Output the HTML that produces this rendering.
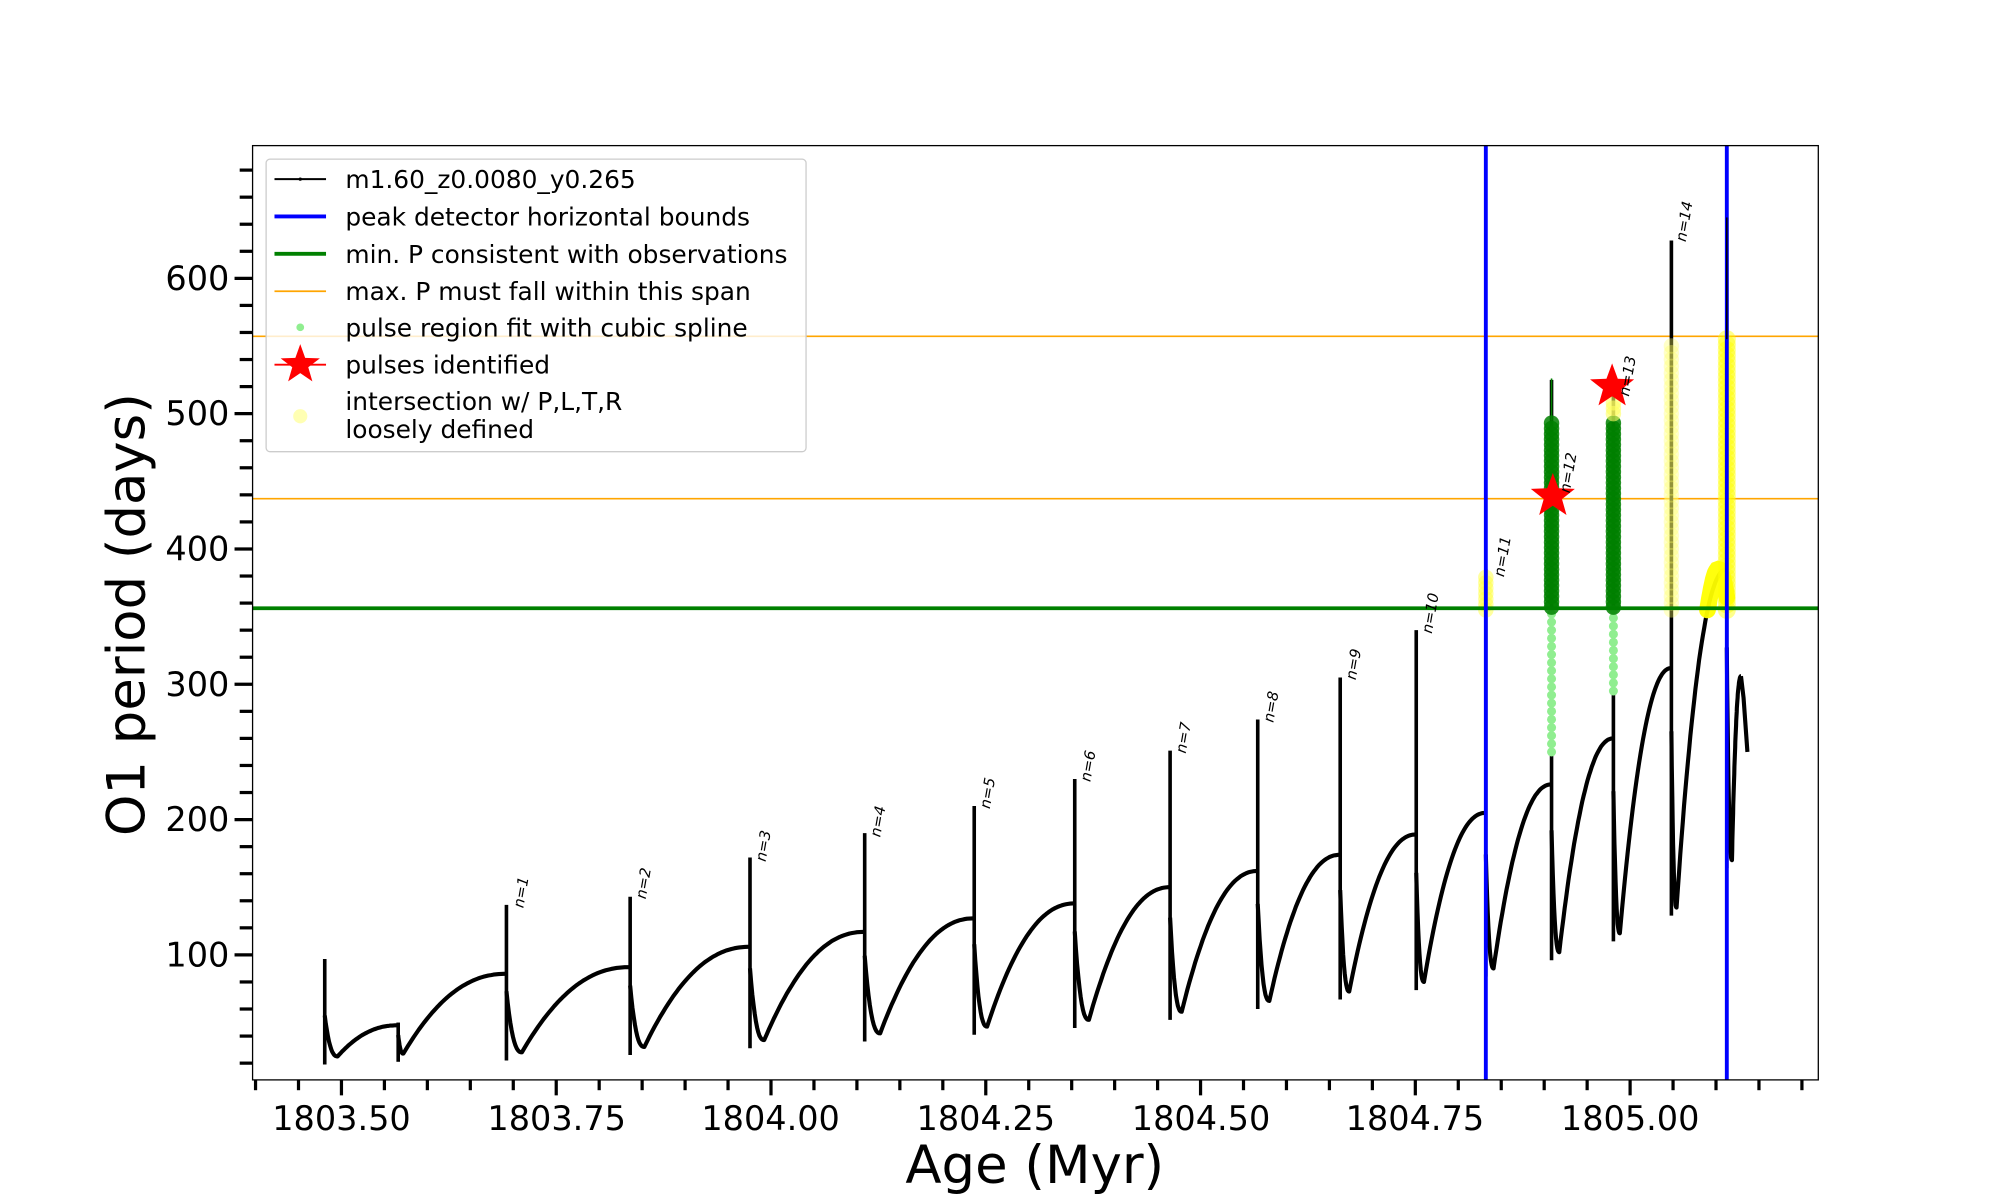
<!DOCTYPE html>
<html><head><meta charset="utf-8"><style>
html,body{margin:0;padding:0;background:#fff}
svg{display:block}
text{font-family:"DejaVu Sans","Liberation Sans",sans-serif}
</style></head><body>
<svg id="s" width="2000" height="1200" viewBox="0 0 1552 931.2" xmlns="http://www.w3.org/2000/svg">
<rect x="0" y="0" width="1552" height="931.2" fill="#fff"/>
<g id="plot"></g>
<rect x="196" y="113" width="1215" height="725" fill="none" stroke="#000" stroke-width="1"/>
<g id="ticks"></g>
<g font-size="26" fill="#000" text-anchor="end">
<text x="178" y="750">100</text><text x="178" y="645">200</text><text x="178" y="540">300</text>
<text x="178" y="435">400</text><text x="178" y="330">500</text><text x="178" y="225">600</text>
</g>
<g font-size="26" fill="#000" text-anchor="middle">
<text x="265" y="877">1803.50</text><text x="432" y="877">1803.75</text><text x="598" y="877">1804.00</text>
<text x="765" y="877">1804.25</text><text x="932" y="877">1804.50</text><text x="1098" y="877">1804.75</text><text x="1265" y="877">1805.00</text>
</g>
<text x="803" y="918" font-size="41" text-anchor="middle">Age (Myr)</text>
<text transform="translate(112,477) rotate(-90)" font-size="41" text-anchor="middle">O1 period (days)</text>
<g font-size="11.5" font-style="italic" fill="#000">
<text transform="translate(406,705) rotate(-80)">n=1</text>
<text transform="translate(501,698) rotate(-80)">n=2</text>
<text transform="translate(594,669) rotate(-80)">n=3</text>
<text transform="translate(683,650) rotate(-80)">n=4</text>
<text transform="translate(768,628) rotate(-80)">n=5</text>
<text transform="translate(846,607) rotate(-80)">n=6</text>
<text transform="translate(920,585) rotate(-80)">n=7</text>
<text transform="translate(988,561) rotate(-80)">n=8</text>
<text transform="translate(1052,528) rotate(-80)">n=9</text>
<text transform="translate(1111,492) rotate(-80)">n=10</text>
<text transform="translate(1167,448) rotate(-80)">n=11</text>
<text transform="translate(1218,383) rotate(-80)">n=12</text>
<text transform="translate(1264,308) rotate(-80)">n=13</text>
<text transform="translate(1308,188) rotate(-80)">n=14</text>
</g>
<g>
<rect x="206.5" y="123.5" width="419" height="227" rx="3" fill="#fff" fill-opacity="0.8" stroke="#ccc" stroke-width="1"/>
<line x1="213" y1="139" x2="253" y2="139" stroke="#000" stroke-width="1.5"/><circle cx="233" cy="139" r="1.3"/>
<line x1="213" y1="168" x2="253" y2="168" stroke="#00f" stroke-width="3"/>
<line x1="213" y1="197" x2="253" y2="197" stroke="#008000" stroke-width="3"/>
<line x1="213" y1="226" x2="253" y2="226" stroke="#ffa500" stroke-width="1.3"/>
<circle cx="233" cy="254" r="3" fill="#90ee90"/>
<line x1="213" y1="283" x2="253" y2="283" stroke="#f00" stroke-width="1.5"/>
<polygon id="lstar" fill="#f00"/>
<circle cx="233" cy="323" r="5.5" fill="#ffffa0" opacity="0.8"/>
<g font-size="19.3" fill="#000">
<text x="268" y="146">m1.60_z0.0080_y0.265</text>
<text x="268" y="175">peak detector horizontal bounds</text>
<text x="268" y="204">min. P consistent with observations</text>
<text x="268" y="233">max. P must fall within this span</text>
<text x="268" y="261">pulse region fit with cubic spline</text>
<text x="268" y="290">pulses identified</text>
<text x="268" y="318">intersection w/ P,L,T,R</text>
<text x="268" y="340">loosely defined</text>
</g>
</g>
</svg>
<script>
var NS="http://www.w3.org/2000/svg";
function el(p,t,a){var e=document.createElementNS(NS,t);for(var k in a)e.setAttribute(k,a[k]);p.appendChild(e);return e;}
function Y(v){return 741-(v-100)*1.05;}
var plot=document.getElementById('plot'),tk=document.getElementById('ticks');
function star(cx,cy,R,r){var p=[];for(var i=0;i<10;i++){var a=-Math.PI/2+i*Math.PI/5,rr=i%2?r:R;p.push((cx+rr*Math.cos(a)).toFixed(1)+','+(cy+rr*Math.sin(a)).toFixed(1));}return p.join(' ');}
document.getElementById('lstar').setAttribute('points',star(233,283,16,6.5));
var C=[[252,97,25,48],[309,50,27,86],[393,137,28,91],[489,143,32,106],[582,172,37,117],[671,190,42,127],[756,210,47,138],[834,230,52,150],[908,251,58,162],[976,274,66,174],[1040,305,73,189],[1099,340,80,205],[1153,385,90,226],[1204,525,102,260],[1252,520,116,312],[1297,628,135,385],[1340,645,170,306]];
var D=[10,4,12,11,11,12,10,11,9,9,7,6,6,6,5,4,4];
el(plot,'line',{x1:196,x2:1411,y1:261,y2:261,stroke:'#ffa500','stroke-width':1.3});
el(plot,'line',{x1:196,x2:1411,y1:387,y2:387,stroke:'#ffa500','stroke-width':1.3});
var d='',prevP=65;
for(var k=0;k<C.length;k++){
 var s=C[k][0],T=C[k][1],m=C[k][2],P=C[k][3],dd=D[k];
 var e=(k+1<C.length)?C[k+1][0]:1351;
 el(plot,'line',{x1:s,x2:s,y1:Y(m-6),y2:Y(T),stroke:'#000','stroke-width':2.8});
 var pts=[];
 var st=Math.max(prevP*0.85,m+10);
 for(var i=0;i<=12;i++){var u=i/12;pts.push([s+u*dd,m+(st-m)*Math.pow(1-u,2.5)]);}
 for(var i=1;i<=40;i++){var u=i/40;pts.push([s+dd+u*(e-s-dd),m+(P-m)*(1-Math.pow(1-u,2.2))]);}
 d+='M'+pts.map(function(q){return q[0].toFixed(1)+','+Y(q[1]).toFixed(1);}).join(' L');
 prevP=P;
}
d+=' M1351,'+Y(306)+' L1353,'+Y(290)+' L1356,'+Y(250);
el(plot,'path',{d:d,fill:'none',stroke:'#000','stroke-width':3.2,'stroke-linejoin':'round'});
function col(x,v1,v2,r,c,op,step){for(var v=v1;v<=v2;v+=step)el(plot,'circle',{cx:x,cy:Y(v),r:r,fill:c,opacity:op});}
col(1204,250,355,3.5,'#90ee90',1,6);
col(1252,295,355,3.5,'#90ee90',1,6);
el(plot,'line',{x1:1204,x2:1204,y1:Y(495),y2:Y(526),stroke:'#008000','stroke-width':1.2});
col(1204,357,493,6,'#008000',0.85,4);
col(1252,357,493,6,'#008000',0.85,4);
col(1153,355,382,6,'#ffff40',0.5,4);
col(1297,355,553,6,'#ffff60',0.35,5);
col(1340,355,555,7,'#ffff00',0.45,4);
col(1252,500,510,6,'#ffff60',0.6,4);
var yb='';for(var i=0;i<=20;i++){var u=i/20;var x=1325+u*15;var v=355+30*Math.sin(u*Math.PI*0.9);yb+=(i?'L':'M')+x.toFixed(1)+','+Y(v).toFixed(1);}
el(plot,'path',{d:yb,fill:'none',stroke:'#ffff00','stroke-width':13,'stroke-linecap':'round',opacity:0.95});
el(plot,'line',{x1:196,x2:1411,y1:472,y2:472,stroke:'#008000','stroke-width':3});
el(plot,'line',{x1:1153,x2:1153,y1:113,y2:838,stroke:'#00f','stroke-width':3});
el(plot,'line',{x1:1340,x2:1340,y1:113,y2:838,stroke:'#00f','stroke-width':3});
el(plot,'line',{x1:1340,x2:1340,y1:Y(645),y2:Y(555),stroke:'#000','stroke-width':1.2});
el(plot,'polygon',{points:star(1205,385,18,7.5),fill:'#f00'});
el(plot,'polygon',{points:star(1251,300,18,7.5),fill:'#f00'});
for(var v=20;v<=680;v+=20){var maj=v%100==0;el(tk,'line',{x1:maj?182:186,x2:196,y1:Y(v),y2:Y(v),stroke:'#000','stroke-width':2.5});}
for(var i=0;i<=36;i++){var x=198.3+i*33.333;if(x>1411)break;var maj=(i-2)%5==0;el(tk,'line',{x1:x,x2:x,y1:838,y2:maj?850:846,stroke:'#000','stroke-width':2.5});}
</script>
</body></html>
